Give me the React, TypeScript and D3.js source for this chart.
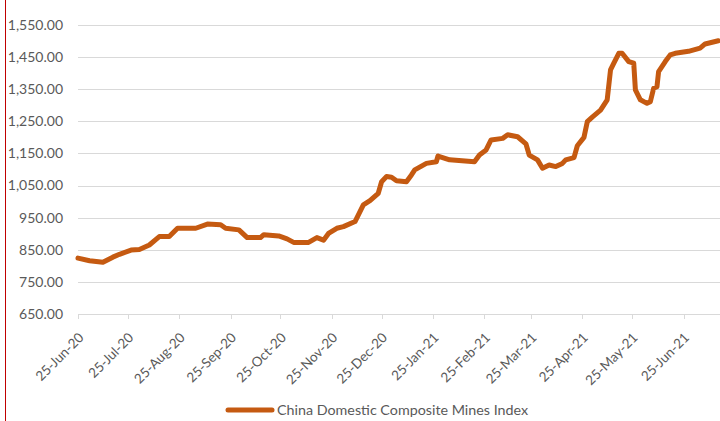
import React from "react";
import * as d3 from "d3";

const seriesName = "China Domestic Composite Mines Index";

const dates: string[] = [
  "2020-06-25","2020-07-02","2020-07-10","2020-07-16","2020-07-20","2020-07-27","2020-08-01","2020-08-07",
  "2020-08-13","2020-08-19","2020-08-24","2020-09-04","2020-09-11","2020-09-19","2020-09-22","2020-09-30",
  "2020-10-05","2020-10-13","2020-10-15","2020-10-24","2020-10-29","2020-11-02","2020-11-11","2020-11-16",
  "2020-11-20","2020-11-23","2020-11-28","2020-12-02","2020-12-09","2020-12-14","2020-12-18","2020-12-23",
  "2020-12-25","2020-12-28","2020-12-31","2021-01-03","2021-01-09","2021-01-12","2021-01-14","2021-01-21",
  "2021-01-27","2021-01-28","2021-02-04","2021-02-19","2021-02-22","2021-02-26","2021-03-01","2021-03-08",
  "2021-03-11","2021-03-17","2021-03-22","2021-03-24","2021-03-29","2021-04-01","2021-04-05","2021-04-09",
  "2021-04-13","2021-04-15","2021-04-20","2021-04-22","2021-04-26","2021-04-28","2021-05-01","2021-05-06",
  "2021-05-10","2021-05-12","2021-05-14","2021-05-17","2021-05-19","2021-05-23","2021-05-26","2021-05-27",
  "2021-05-30","2021-06-03","2021-06-05","2021-06-07","2021-06-09","2021-06-10","2021-06-14","2021-06-17",
  "2021-06-20","2021-06-28","2021-07-05","2021-07-08","2021-07-16"
];

const values: number[] = [
  824,816,811,827,836,849,851,865,
  891,891,917,917,930,928,917,912,
  888,888,897,893,884,873,873,888,
  880,901,917,922,938,990,1003,1026,
  1062,1078,1076,1065,1062,1083,1099,1119,
  1124,1142,1130,1124,1145,1161,1192,1197,
  1208,1202,1180,1145,1130,1104,1114,1109,
  1119,1130,1137,1174,1200,1249,1263,1285,
  1317,1410,1431,1462,1462,1436,1431,1348,
  1317,1306,1311,1353,1358,1405,1436,1457,
  1462,1468,1478,1491,1501
];

const yTicks: number[] = [650, 750, 850, 950, 1050, 1150, 1250, 1350, 1450, 1550];

const xTickLabels: string[] = [
  "25-Jun-20","25-Jul-20","25-Aug-20","25-Sep-20","25-Oct-20","25-Nov-20","25-Dec-20",
  "25-Jan-21","25-Feb-21","25-Mar-21","25-Apr-21","25-May-21","25-Jun-21"
];

const domainStart = "2020-06-25";
const domainEnd = "2021-07-17";

const parse = d3.utcParse("%Y-%m-%d");
const parseTick = d3.utcParse("%d-%b-%y");

export default function App() {
  const W = 720, H = 421;
  const left = 78, right = 720, top = 25, bottom = 314;
  const x = d3.scaleUtc().domain([parse(domainStart)!, parse(domainEnd)!]).range([left, right]);
  const y = d3.scaleLinear().domain([650, 1550]).range([bottom, top]);
  const pts = dates.map((d, i) => ({ d: parse(d)!, v: values[i] }));
  const line = d3.line<{ d: Date; v: number }>().x(p => x(p.d)).y(p => y(p.v));
  const font = "Lato, 'Open Sans', sans-serif";
  const grid = "#D9D9D9";
  const textCol = "#595959";
  const color = "#C55A11";

  return (
    <svg width={W} height={H} style={{ position: "absolute", left: 0, top: 0, background: "#fff" }}>
      <rect x={0} y={0} width={W} height={H} fill="#fff" />
      <line x1={5.5} x2={5.5} y1={0} y2={H} stroke="#C00000" strokeWidth={1} />
      {yTicks.map(t => (
        <g key={t}>
          <line x1={left} x2={right} y1={Math.round(y(t)) + 0.5} y2={Math.round(y(t)) + 0.5} stroke={grid} strokeWidth={1} />
          <text x={63} y={y(t)} dy="0.35em" textAnchor="end" fontFamily={font} fontSize={14} fill={textCol}>
            {d3.format(",.2f")(t)}
          </text>
        </g>
      ))}
      {xTickLabels.map(lbl => {
        const tx = x(parseTick(lbl)!);
        return (
          <g key={lbl}>
            <line x1={Math.round(tx) + 0.5} x2={Math.round(tx) + 0.5} y1={bottom} y2={bottom + 5} stroke={grid} strokeWidth={1} />
            <text transform={`translate(${tx + 3},${bottom + 21}) rotate(-45)`} textAnchor="end" dominantBaseline="central"
              fontFamily={font} fontSize={13.5} fill={textCol}>{lbl}</text>
          </g>
        );
      })}
      <path d={line(pts)!} fill="none" stroke={color} strokeWidth={5} strokeLinejoin="round" strokeLinecap="round" />
      <line x1={228} x2={272} y1={410} y2={410} stroke={color} strokeWidth={5} strokeLinecap="round" />
      <text x={277} y={410} dy="0.35em" fontFamily={font} fontSize={14.3} fill={textCol}>{seriesName}</text>
    </svg>
  );
}
